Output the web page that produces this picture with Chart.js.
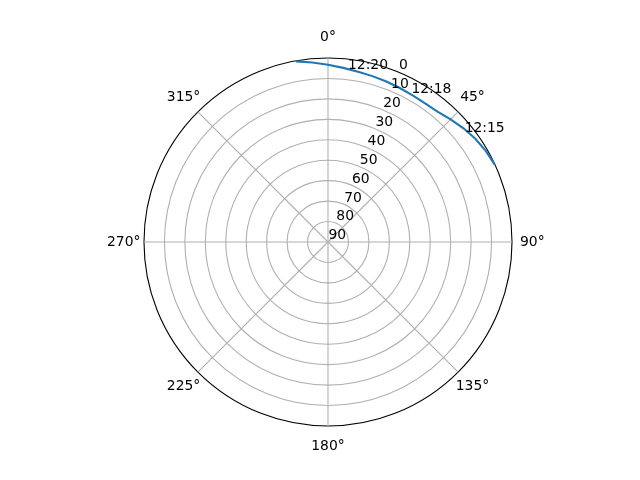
<!DOCTYPE html>
<html>
<head>
<meta charset="utf-8">
<script src="https://cdn.jsdelivr.net/npm/chart.js@4.4.0/dist/chart.umd.min.js"></script>
<style>
  html, body { margin: 0; padding: 0; background: #fff; }
  #wrap { width: 640px; height: 480px; }
</style>
</head>
<body>
<div id="wrap"><canvas id="polar"></canvas></div>
<script>
// angular grid of the radar scale: one category every 5 degrees, clockwise from north
const azStep = 5;
const azimuths = Array.from({ length: 360 / azStep }, (_, i) => i * azStep);

// visible labels
const thetaTicks = [0, 45, 90, 135, 180, 225, 270, 315];
const radialTicks = [0, 10, 20, 30, 40, 50, 60, 70, 80, 90];
const radialLabelAz = 22.5;

// satellite pass (azimuth deg, elevation deg)
const pathAz = [350, 355, 0, 5, 10, 15, 20, 25, 30, 35, 40, 45, 50, 55, 60, 65];
const pathEl = [0.3, 1.9, 3.3, 4.5, 5.4, 6.0, 6.5, 6.9, 7.2, 7.2, 6.7, 5.2, 3.5, 2.0, 0.9, 0.1];

// time annotations
const passTimes = ['12:15', '12:18', '12:20'];
const passTimeAz = [51.1, 29.2, 6.6];
const passTimeEl = [4.1, 6.4, 4.9];

const FONT = '13.9px "DejaVu Sans", sans-serif';
const GRID = '#b0b0b0';

const elevations = azimuths.map(az => {
  const k = pathAz.indexOf(az);
  return k === -1 ? null : pathEl[k];
});

const polarText = {
  id: 'polarText',
  afterDraw(chart) {
    const r = chart.scales.r;
    const ctx = chart.ctx;
    ctx.save();
    ctx.font = FONT;
    ctx.fillStyle = '#000';

    // theta labels, centred outside the rim
    ctx.textAlign = 'center';
    ctx.textBaseline = 'middle';
    thetaTicks.forEach(t => {
      const p = r.getPointPosition(t / azStep, r.drawingArea + 20.3);
      ctx.fillText(t + '°', p.x, p.y);
    });

    // radial labels along 22.5 deg, anchored left/bottom
    ctx.textAlign = 'left';
    ctx.textBaseline = 'alphabetic';
    radialTicks.forEach(v => {
      const p = r.getPointPositionForValue(radialLabelAz / azStep, v);
      ctx.fillText(String(v), p.x + 0.5, p.y - 2.7);
    });

    // time annotations
    passTimes.forEach((txt, i) => {
      const p = r.getPointPositionForValue(passTimeAz[i] / azStep, passTimeEl[i]);
      ctx.fillText(txt, p.x, p.y);
    });
    ctx.restore();
  }
};

new Chart(document.getElementById('polar'), {
  type: 'radar',
  data: {
    labels: azimuths.map(a => a + '°'),
    datasets: [{
      data: elevations,
      borderColor: '#1f77b4',
      borderWidth: 2.1,
      pointRadius: 0,
      fill: false,
      spanGaps: false,
      tension: 0
    }]
  },
  options: {
    responsive: true,
    maintainAspectRatio: false,
    devicePixelRatio: 1,
    animation: false,
    layout: { padding: { left: 16, right: 0, top: 58, bottom: 54 } },
    plugins: {
      legend: { display: false },
      tooltip: { enabled: false }
    },
    scales: {
      r: {
        min: 0,
        max: 90,
        reverse: true,
        ticks: { display: false, stepSize: 10 },
        pointLabels: { display: false },
        grid: {
          circular: true,
          color: ctx => ctx.tick && ctx.tick.value === 0 ? '#000' : GRID,
          lineWidth: 1.1
        },
        angleLines: {
          color: GRID,
          lineWidth: ctx => (ctx.index * azStep) % 45 === 0 ? 1.1 : 0
        }
      }
    }
  },
  plugins: [polarText]
});
</script>
</body>
</html>
